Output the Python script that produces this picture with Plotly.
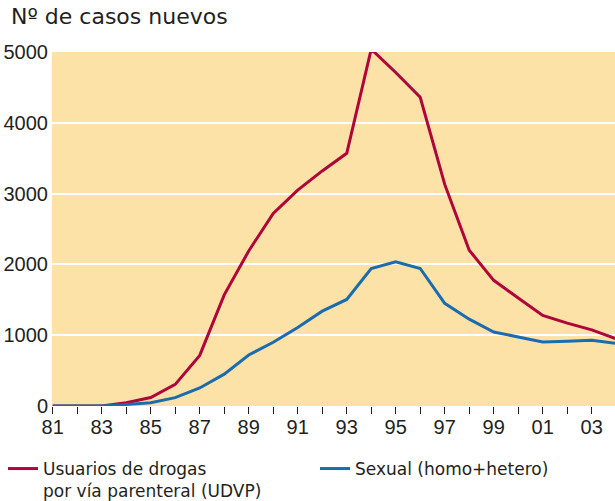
import plotly.graph_objects as go

years = list(range(1981, 2005))
udvp = [0, 0, 0, 45, 120, 305, 715, 1570, 2190, 2720, 3050, 3320, 3570, 5040,
        4710, 4360, 3130, 2200, 1775, 1525, 1280, 1170, 1075, 950]
sexual = [0, 0, 0, 22, 45, 118, 255, 450, 720, 900, 1110, 1340, 1505, 1940,
          2037, 1943, 1450, 1226, 1045, 975, 905, 915, 929, 885]

tick_years = list(range(1981, 2004, 2))
tick_labels = [str(y)[-2:] for y in tick_years]
y_ticks = [0, 1000, 2000, 3000, 4000, 5000]

RED = "#B0053A"
BLUE = "#1A6CAE"
BG = "#FDE2A8"
TXT = "#231F20"
NARROW = "Liberation Sans Narrow, Arial Narrow, sans-serif"
WIDE = "DejaVu Sans, Verdana, sans-serif"

W, H = 615, 501
L, R, T, B = 52, 0, 52, 95
PW, PH = W - L - R, H - T - B


def px_x(p):
    return (p - L) / PW


def px_y(p):
    return (H - B - p) / PH


fig = go.Figure()
fig.add_trace(go.Scatter(x=years, y=udvp, mode="lines",
                         name="Usuarios de drogas<br>por vía parenteral (UDVP)",
                         line=dict(color=RED, width=3), legend="legend"))
fig.add_trace(go.Scatter(x=years, y=sexual, mode="lines",
                         name="Sexual (homo+hetero)",
                         line=dict(color=BLUE, width=3), legend="legend2"))

leg_common = dict(xanchor="left", yanchor="top", valign="top",
                  font=dict(family=WIDE, size=17, color=TXT),
                  bgcolor="rgba(0,0,0,0)", borderwidth=0)

fig.update_layout(
    width=W, height=H,
    margin=dict(l=L, r=R, t=T, b=B, autoexpand=False),
    paper_bgcolor="white", plot_bgcolor=BG,
    font=dict(family=WIDE, color=TXT),
    showlegend=True,
    legend=dict(x=px_x(3), y=px_y(451), **leg_common),
    legend2=dict(x=px_x(315), y=px_y(451), **leg_common),
    annotations=[dict(text="Nº de casos nuevos", xref="paper", yref="paper",
                      x=px_x(9), y=px_y(17), xanchor="left", yanchor="middle",
                      showarrow=False, font=dict(family=WIDE, size=22, color=TXT))],
)
fig.update_xaxes(range=[1980.97, 2003.95], tickmode="array", tickvals=tick_years,
                 ticktext=tick_labels, ticks="outside", ticklen=7, tickwidth=1.2,
                 tickcolor=TXT, showgrid=False, zeroline=False, showline=False,
                 ticklabelstandoff=-4,
                 tickfont=dict(family=NARROW, size=20, color=TXT),
                 minor=dict(dtick=1, tick0=1981, ticks="outside", ticklen=7,
                            tickwidth=1.2, tickcolor=TXT, showgrid=False))
fig.update_yaxes(range=[0, 5000], tickmode="array", tickvals=y_ticks,
                 showgrid=True, gridcolor="white", gridwidth=2,
                 zeroline=False, ticks="", ticklabelstandoff=3,
                 tickfont=dict(family=NARROW, size=20, color=TXT))

fig.write_html("out.html", config={"displayModeBar": False},
               post_script="document.body.style.margin='0px';")
